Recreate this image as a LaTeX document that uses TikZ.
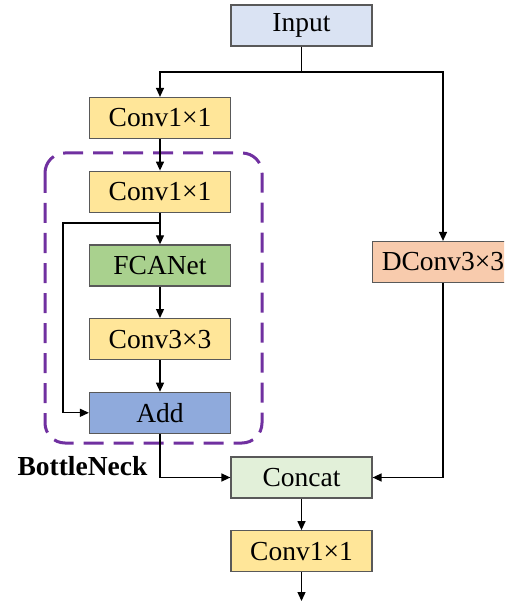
\documentclass[tikz,border=0pt]{standalone}
\usepackage{fontspec}
\setmainfont{Liberation Serif}
\usetikzlibrary{arrows.meta, positioning}
\definecolor{inblue}{HTML}{DAE3F3}
\definecolor{convyellow}{HTML}{FFE699}
\definecolor{fcagreen}{HTML}{A9D18E}
\definecolor{addblue}{HTML}{8FAADC}
\definecolor{dconvorange}{HTML}{F8CBAD}
\definecolor{catgreen}{HTML}{E2F0D9}
\definecolor{boxgray}{HTML}{595959}
\definecolor{neckpurple}{HTML}{7030A0}

\begin{document}
\begin{tikzpicture}[
			x=1pt, y=1pt,
			node distance=31.5pt,
			font=\fontsize{27.5}{33}\selectfont,
			box/.style={draw=boxgray, line width=1.2pt, minimum width=141pt,
				minimum height=41pt, inner sep=0pt, align=center},
			link/.style={line width=1.3pt, -{Triangle[length=9pt, width=8pt]}}
			]
			\useasboundingbox (0,0) rectangle (504,-601);
			\clip (0,0) rectangle (504,-601);

			\node[box, fill=inblue] (input) at (301.5,-25.5) {Input};
			\node[box, fill=convyellow] (conva) at (160,-118) {Conv1×1};
			\node[box, fill=convyellow, below=of conva] (convb) {Conv1×1};
			\node[box, fill=fcagreen, below=of convb] (fca) {FCANet};
			\node[box, fill=convyellow, below=of fca] (convc) {Conv3×3};
			\node[box, fill=addblue, below=of convc] (add) {Add};

			\node[box, fill=dconvorange] (dconv) at (443,-262) {DConv3×3};
			\node[box, fill=catgreen] (concat) at (301.5,-477.5) {Concat};
			\node[box, fill=convyellow, below=of concat] (out) {Conv1×1};
			\coordinate (end) at (301.5,-601);

			% bottleneck frame
			\draw[neckpurple, line width=3pt, dash pattern=on 20pt off 10pt, rounded corners=20pt]
				(45,-153) rectangle (262,-443);
			\node[font=\fontsize{27.5}{33}\selectfont\bfseries] (neck) at (82.5,-466) {BottleNeck};

			% split
			\coordinate (split) at (301.5,-72);
			\draw[line width=1.3pt] (input) -- (split);
			\draw[link] (split) -| (conva);
			\draw[link] (split) -| (dconv);

			\foreach \a/\b in {conva/convb, convb/fca, fca/convc, convc/add, concat/out, out/end} {
				\draw[link] (\a) -- (\b);
			}

			% shortcut
			\coordinate (tap) at (160,-223);
			\draw[link] (tap) -- (63,-223) |- (add.west);

			\draw[link] (add) |- (concat.west);
			\draw[link] (dconv) |- (concat.east);

		\end{tikzpicture}
\end{document}
